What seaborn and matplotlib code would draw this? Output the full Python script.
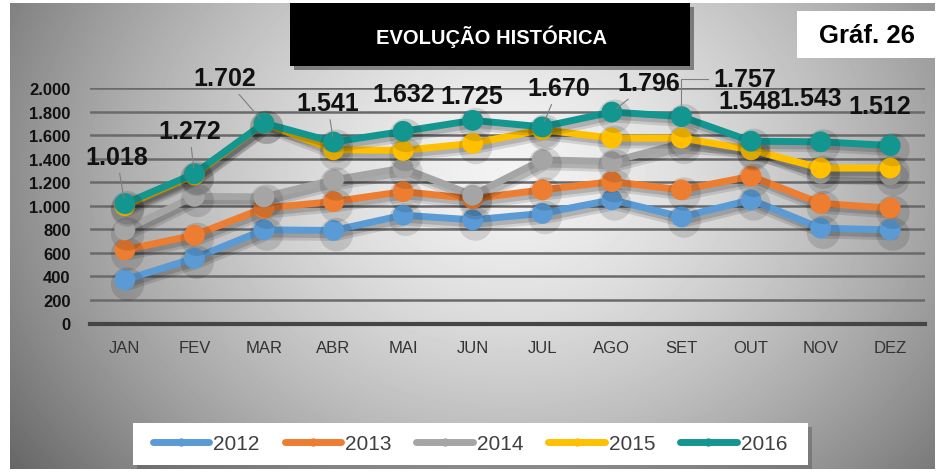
import numpy as np
import pandas as pd
import matplotlib
matplotlib.use("Agg")
import matplotlib.pyplot as plt
import matplotlib.patheffects as pe
from matplotlib.patches import Rectangle
from matplotlib.lines import Line2D
from matplotlib.ticker import FuncFormatter
import seaborn as sns

# dados
MESES = ["JAN", "FEV", "MAR", "ABR", "MAI", "JUN", "JUL", "AGO", "SET", "OUT", "NOV", "DEZ"]
ANOS = ["2012", "2013", "2014", "2015", "2016"]
V2012 = [370, 555, 795, 790, 920, 880, 935, 1050, 905, 1050, 810, 795]
V2013 = [625, 750, 980, 1035, 1120, 1060, 1135, 1205, 1135, 1250, 1020, 980]
V2014 = [795, 1080, 1075, 1220, 1320, 1090, 1390, 1375, 1530, 1490, 1275, 1260]
V2015 = [1000, 1260, 1700, 1475, 1470, 1530, 1645, 1575, 1575, 1475, 1320, 1320]
V2016 = [1018, 1272, 1702, 1541, 1632, 1725, 1670, 1796, 1757, 1548, 1543, 1512]
CORES = ["#5B9BD5", "#ED7D31", "#A5A5A5", "#FFC000", "#13968F"]

# posição dos rótulos de 2016 (pixels, relativo ao ponto) e tipo de ligação
ROT_DX = [-8, -5, -39, -6, 1, -1, 16, 37, 63, -1, -10, -10]
ROT_DY = [40, 36, 38, 32, 30, 17, 32, 22, 31, 33, 37, 32]
LIGACAO = [1, 1, 1, 1, 0, 0, 1, 1, 2, 0, 0, 0]

sns.set_theme(style="white")
plt.rcParams["font.family"] = ["Liberation Sans", "DejaVu Sans"]

df = pd.DataFrame({
    "mes": MESES * len(ANOS),
    "ano": np.repeat(ANOS, len(MESES)),
    "valor": V2012 + V2013 + V2014 + V2015 + V2016,
})

fig = plt.figure(figsize=(9.42, 4.77), dpi=100)
fig.patch.set_facecolor("white")

# fundo em degradê radial
bg = fig.add_axes([10 / 942, 7 / 477, 925 / 942, 466 / 477], zorder=0)
h, w = 466, 925
yy, xx = np.mgrid[0:h, 0:w]
d = np.sqrt(((xx - 500) / 520.0) ** 2 + ((yy - 165) / 420.0) ** 2)
tom = 0.95 - 0.42 * np.clip(d, 0, 1.2) ** 1.5
bg.imshow(tom, cmap="gray", vmin=0, vmax=1, aspect="auto", interpolation="bilinear")
bg.set_axis_off()

ax = fig.add_axes([90 / 942, 152.5 / 477, 835 / 942, 235.5 / 477], zorder=2)
ax.patch.set_alpha(0)

sns.lineplot(data=df, x="mes", y="valor", hue="ano", palette=CORES,
             marker="o", markersize=15, markeredgewidth=0, linewidth=5,
             sort=False, legend=False, ax=ax)

sombra = [pe.SimpleLineShadow(offset=(2, -3), shadow_color="black", alpha=0.12, linewidth=9),
          pe.SimpleLineShadow(offset=(2, -3), shadow_color="black", alpha=0.15),
          pe.Normal()]
for ln in ax.lines:
    ln.set_path_effects(sombra)
    ln.set_clip_on(False)

ax.set_xlim(-0.5, len(MESES) - 0.5)
ax.set_ylim(0, 2000)
ax.set_yticks(np.arange(0, 2001, 200))
ax.yaxis.set_major_formatter(FuncFormatter(lambda v, p: f"{int(v):,}".replace(",", ".")))
ax.set_xlabel("")
ax.set_ylabel("")

ax.set_axisbelow(True)
ax.yaxis.grid(True, color="#6a6a6a", linewidth=1.8)
ax.xaxis.grid(False)
for s in ["top", "left", "right"]:
    ax.spines[s].set_visible(False)
ax.spines["bottom"].set_color("#454545")
ax.spines["bottom"].set_linewidth(3)

ax.set_xticks(np.arange(-0.5, len(MESES), 1), minor=True)
ax.tick_params(axis="x", which="major", length=0, pad=12, labelsize=12, labelcolor="#333333")
ax.tick_params(axis="x", which="minor", length=5, width=2, color="#454545", direction="out")
ax.tick_params(axis="y", length=0, pad=14, labelsize=12)
for t in ax.get_yticklabels():
    t.set_fontweight("bold")
    t.set_color("#111111")

# rótulos de 2016
for i, v in enumerate(V2016):
    props = None
    if LIGACAO[i] == 1:
        props = dict(arrowstyle="-", color="#7f7f7f", lw=0.8, shrinkA=1, shrinkB=4)
    elif LIGACAO[i] == 2:
        props = dict(arrowstyle="-", color="#7f7f7f", lw=0.8, shrinkA=1, shrinkB=6,
                     connectionstyle="angle,angleA=0,angleB=90,rad=0")
    ax.annotate(f"{v:,}".replace(",", "."), xy=(i, v),
                xytext=(ROT_DX[i], ROT_DY[i]), textcoords="offset pixels",
                ha="center", va="baseline", fontsize=18, fontweight="bold",
                color="#111111", arrowprops=props, annotation_clip=False, zorder=5)

# caixa do título
tit = Rectangle((290 / 942, 410 / 477), 400 / 942, 63 / 477, transform=fig.transFigure,
                facecolor="black", edgecolor="none", zorder=3)
tit.set_path_effects([pe.SimplePatchShadow(offset=(3, -3), alpha=0.4), pe.Normal()])
fig.patches.append(tit)
fig.text(491 / 942, 440 / 477, "EVOLUÇÃO HISTÓRICA", color="white", fontsize=14.5,
         fontweight="bold", ha="center", va="center", zorder=4)

graf = Rectangle((797 / 942, 418 / 477), 138 / 942, 47 / 477, transform=fig.transFigure,
                 facecolor="white", edgecolor="none", zorder=3)
fig.patches.append(graf)
fig.text(867 / 942, 441 / 477, "Gráf. 26", color="black", fontsize=18.5,
         fontweight="bold", ha="center", va="center", zorder=4)

# legenda
caixa = Rectangle((133 / 942, 11 / 477), 675 / 942, 42 / 477, transform=fig.transFigure,
                  facecolor="white", edgecolor="none", zorder=3)
caixa.set_path_effects([pe.SimplePatchShadow(offset=(3, -3), alpha=0.4), pe.Normal()])
fig.patches.append(caixa)
alcas = [Line2D([], [], color=c, lw=5, marker="o", markersize=6, markeredgewidth=0)
         for c in CORES]
leg = fig.legend(alcas, ANOS, loc="center", bbox_to_anchor=(470 / 942, 32 / 477),
                 ncol=5, frameon=False, handlelength=2.7, columnspacing=1.2,
                 handletextpad=0.2, fontsize=15, labelcolor="#404040")
leg.set_zorder(5)

fig.savefig("out.png", dpi=100, facecolor="white")
